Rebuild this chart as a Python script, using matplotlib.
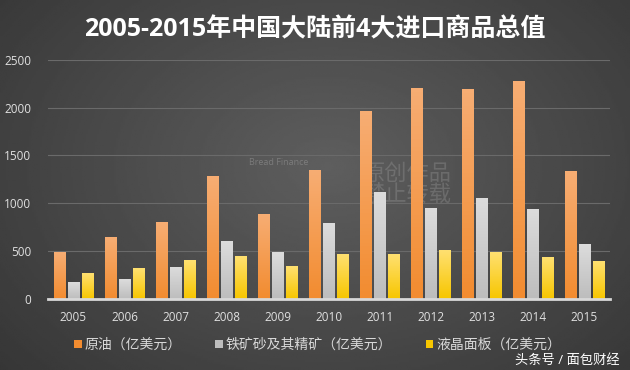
import numpy as np
import matplotlib
matplotlib.use('Agg')
import matplotlib.pyplot as plt

plt.rcParams['font.family'] = ['Open Sans', 'Noto Sans CJK SC', 'DejaVu Sans']

# data (亿美元)
years = ['2005', '2006', '2007', '2008', '2009', '2010',
         '2011', '2012', '2013', '2014', '2015']
crude_oil = [484, 648, 797, 1288, 890, 1347, 1966, 2209, 2196, 2283, 1340]
iron_ore = [178, 209, 332, 604, 492, 796, 1117, 953, 1058, 936, 576]
lcd_panel = [272, 318, 408, 440, 342, 471, 471, 503, 492, 437, 398]
series_names = ['原油（亿美元）', '铁矿砂及其精矿（亿美元）', '液晶面板（亿美元）']

colors = ['#f28c30', '#bdbdbd', '#f7c600']
tops = ['#f7ad73', '#dcdcdc', '#ffe070']

fig = plt.figure(figsize=(6.3, 3.7), dpi=100)

# background gradient
bg = fig.add_axes([0, 0, 1, 1], zorder=0)
yy, xx = np.mgrid[0:1:200j, 0:1:340j]
r = np.sqrt(((xx - 0.52) / 0.75) ** 2 + ((yy - 0.45) / 0.9) ** 2)
shade = 0.37 - 0.17 * np.clip(r, 0, 1.2)
bg.imshow(shade, cmap='gray', vmin=0, vmax=1, aspect='auto', extent=[0, 1, 0, 1])
bg.axis('off')

# watermarks (under the bars)
bg.text(0.395, 0.555, 'Bread Finance', color='#8a8a8a', fontsize=6.5, alpha=0.7)
bg.text(0.575, 0.50, '原创作品\n禁止转载', color='#9a9a9a', fontsize=16,
        alpha=0.35, linespacing=1.0, va='center')

ax = fig.add_axes([0.076, 0.193, 0.892, 0.645], zorder=1)
ax.set_facecolor('none')

x = np.arange(len(years))
w = 0.225
off = 0.275
all_series = [crude_oil, iron_ore, lcd_panel]
for i, vals in enumerate(all_series):
    bars = ax.bar(x + (i - 1) * off, vals, w, color=colors[i],
                  label=series_names[i], zorder=3)
    # vertical gradient on each bar
    grad = np.linspace(0, 1, 50).reshape(-1, 1)
    cmap = matplotlib.colors.LinearSegmentedColormap.from_list('g', [colors[i], tops[i]])
    for b in bars:
        ax.imshow(grad, cmap=cmap, aspect='auto', origin='lower', zorder=4,
                  extent=[b.get_x(), b.get_x() + b.get_width(), 0, b.get_height()])

ax.set_xlim(-0.5, len(years) - 0.5)
ax.set_ylim(0, 2500)
ax.set_yticks([0, 500, 1000, 1500, 2000, 2500])
ax.set_xticks(x)
ax.set_xticklabels(years)
ax.grid(axis='y', color='#6a6a6a', linewidth=0.8, zorder=1)
for s in ['top', 'right', 'left']:
    ax.spines[s].set_visible(False)
ax.spines['bottom'].set_color('#d8d8d8')
ax.spines['bottom'].set_linewidth(2)
ax.spines['bottom'].set_zorder(5)
ax.tick_params(axis='both', length=0, colors='#e0e0e0', labelsize=8.5)
ax.tick_params(axis='y', pad=12)
ax.tick_params(axis='x', pad=9)

leg = ax.legend(loc='center', bbox_to_anchor=(0.48, -0.195), ncol=3,
                frameon=False, handlelength=0.55, handleheight=0.55,
                handletextpad=0.2, columnspacing=2.4, fontsize=10)
for t in leg.get_texts():
    t.set_color('#d8d8d8')

fig.text(0.5, 0.918, '2005-2015年中国大陆前4大进口商品总值', ha='center', va='center',
         color='white', fontsize=18, fontweight='bold')

fig.text(0.983, 0.025, '头条号 / 面包财经', color='white', fontsize=9.5,
         ha='right', va='center')

fig.savefig('out.png', dpi=100)
